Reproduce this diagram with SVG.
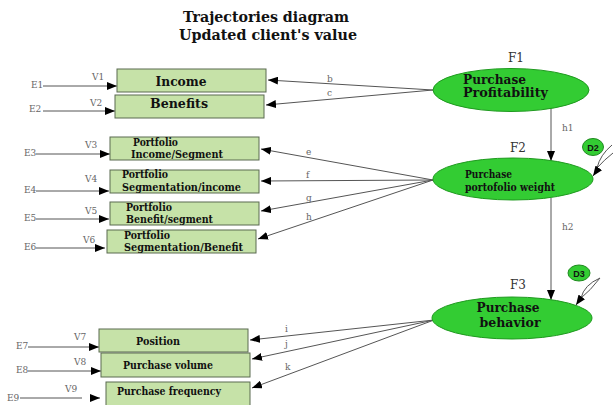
<svg xmlns="http://www.w3.org/2000/svg" width="613" height="405" viewBox="0 0 613 405">
<style>
.bg{fill:#ffffff}
.box{fill:#c6e2a8;stroke:#5a6a50;stroke-width:1}
.ell{fill:#33cc33;stroke:#1f9a1f;stroke-width:1}
.dis{fill:#33cc33;stroke:#1f8a1f;stroke-width:1}
.ln{stroke:#555;stroke-width:1;fill:none}
.t{font-family:"DejaVu Serif","Liberation Serif",serif;font-weight:bold;fill:#111}
.d{font-family:"Liberation Sans","DejaVu Sans",sans-serif;font-weight:bold;font-size:9px;fill:#111}
.s{font-family:"DejaVu Serif","Liberation Serif",serif;font-size:9px;fill:#666}
.f{font-family:"DejaVu Serif","Liberation Serif",serif;font-size:12px;fill:#333}
</style>
<defs>
<marker id="ah" markerUnits="userSpaceOnUse" markerWidth="10" markerHeight="8" refX="10" refY="4" orient="auto">
<path d="M0,0 L10,4 L0,8 z" fill="#000"/>
</marker>
</defs>
<rect class="bg" x="0" y="0" width="613" height="405"/>
<g id="title">
<text class="t" x="266" y="22" font-size="15" text-anchor="middle" textLength="166" lengthAdjust="spacingAndGlyphs">Trajectories diagram</text>
<text class="t" x="268" y="40" font-size="15" text-anchor="middle" textLength="178" lengthAdjust="spacingAndGlyphs">Updated client's value</text>
</g>
<g id="connectors">
<line class="ln" x1="43" y1="86" x2="117" y2="86" marker-end="url(#ah)"/>
<line class="ln" x1="43" y1="111" x2="115" y2="111" marker-end="url(#ah)"/>
<line class="ln" x1="36" y1="154" x2="110" y2="154" marker-end="url(#ah)"/>
<line class="ln" x1="36" y1="191" x2="109" y2="191" marker-end="url(#ah)"/>
<line class="ln" x1="36" y1="219" x2="109" y2="219" marker-end="url(#ah)"/>
<line class="ln" x1="36" y1="248" x2="105" y2="248" marker-end="url(#ah)"/>
<line class="ln" x1="28" y1="347" x2="99" y2="347" marker-end="url(#ah)"/>
<line class="ln" x1="28" y1="371" x2="101" y2="371" marker-end="url(#ah)"/>
<line class="ln" x1="20" y1="398" x2="82" y2="398"/>
<line class="ln" x1="90" y1="398" x2="100" y2="398" marker-end="url(#ah)"/>
<line class="ln" x1="433" y1="90" x2="268" y2="80" marker-end="url(#ah)"/>
<line class="ln" x1="433" y1="90" x2="266" y2="105" marker-end="url(#ah)"/>
<line class="ln" x1="433" y1="180" x2="261" y2="149" marker-end="url(#ah)"/>
<line class="ln" x1="433" y1="180" x2="261" y2="181" marker-end="url(#ah)"/>
<line class="ln" x1="433" y1="180" x2="261" y2="211" marker-end="url(#ah)"/>
<line class="ln" x1="433" y1="180" x2="258" y2="239" marker-end="url(#ah)"/>
<line class="ln" x1="434" y1="320" x2="250" y2="340" marker-end="url(#ah)"/>
<line class="ln" x1="434" y1="320" x2="252" y2="359" marker-end="url(#ah)"/>
<line class="ln" x1="434" y1="320" x2="252" y2="388" marker-end="url(#ah)"/>
<line class="ln" x1="551" y1="108" x2="551" y2="161" marker-end="url(#ah)"/>
<line class="ln" x1="551" y1="198" x2="551" y2="300" marker-end="url(#ah)"/>
<path class="ln" d="M612 145 Q600 155 597 168 Q604 160 613 153"/>
<line class="ln" x1="598" y1="169" x2="593" y2="176" marker-end="url(#ah)"/>
<path class="ln" d="M600 278 Q584 285 581 298 Q590 291 600 278"/>
<line class="ln" x1="581" y1="298" x2="576" y2="305" marker-end="url(#ah)"/>
<text class="s" x="327" y="82">b</text>
<text class="s" x="327" y="96">c</text>
<text class="s" x="306" y="155">e</text>
<text class="s" x="306" y="178">f</text>
<text class="s" x="306" y="201">g</text>
<text class="s" x="306" y="220">h</text>
<text class="s" x="285" y="332">i</text>
<text class="s" x="285" y="347">j</text>
<text class="s" x="285" y="370">k</text>
<text class="s" x="562" y="131">h1</text>
<text class="s" x="562" y="230">h2</text>
</g>
<g id="E1"><text class="s" x="31" y="88">E1</text></g>
<g id="E2"><text class="s" x="29" y="112">E2</text></g>
<g id="E3"><text class="s" x="24" y="156">E3</text></g>
<g id="E4"><text class="s" x="24" y="193">E4</text></g>
<g id="E5"><text class="s" x="24" y="221">E5</text></g>
<g id="E6"><text class="s" x="24" y="250">E6</text></g>
<g id="E7"><text class="s" x="16" y="349">E7</text></g>
<g id="E8"><text class="s" x="16" y="373">E8</text></g>
<g id="E9"><text class="s" x="7" y="401">E9</text></g>
<g id="V1">
<rect class="box" x="117" y="69" width="149" height="23"/>
<text class="s" x="92" y="80">V1</text>
<text class="t" x="181" y="85.5" font-size="13" text-anchor="middle" textLength="51" lengthAdjust="spacingAndGlyphs">Income</text>
</g>
<g id="V2">
<rect class="box" x="115" y="95" width="149" height="23"/>
<text class="s" x="90" y="106">V2</text>
<text class="t" x="179" y="107.5" font-size="13" text-anchor="middle" textLength="58" lengthAdjust="spacingAndGlyphs">Benefits</text>
</g>
<g id="V3">
<rect class="box" x="110" y="137" width="149" height="23"/>
<text class="s" x="85" y="148">V3</text>
<text class="t" x="133" y="146" font-size="10.5" textLength="45" lengthAdjust="spacingAndGlyphs">Portfolio</text>
<text class="t" x="131" y="158" font-size="10.5" textLength="92" lengthAdjust="spacingAndGlyphs">Income/Segment</text>
</g>
<g id="V4">
<rect class="box" x="110" y="170" width="149" height="23"/>
<text class="s" x="85" y="182">V4</text>
<text class="t" x="122" y="178" font-size="10.5" textLength="46" lengthAdjust="spacingAndGlyphs">Portfolio</text>
<text class="t" x="122" y="191" font-size="10.5" textLength="119" lengthAdjust="spacingAndGlyphs">Segmentation/income</text>
</g>
<g id="V5">
<rect class="box" x="110" y="202" width="149" height="23"/>
<text class="s" x="85" y="214">V5</text>
<text class="t" x="126" y="211" font-size="10.5" textLength="46" lengthAdjust="spacingAndGlyphs">Portfolio</text>
<text class="t" x="126" y="223" font-size="10.5" textLength="87" lengthAdjust="spacingAndGlyphs">Benefit/segment</text>
</g>
<g id="V6">
<rect class="box" x="107" y="230" width="149" height="23"/>
<text class="s" x="83" y="243">V6</text>
<text class="t" x="124" y="239" font-size="10.5" textLength="46" lengthAdjust="spacingAndGlyphs">Portfolio</text>
<text class="t" x="124" y="251" font-size="10.5" textLength="119" lengthAdjust="spacingAndGlyphs">Segmentation/Benefit</text>
</g>
<g id="V7">
<rect class="box" x="99" y="329" width="149" height="23"/>
<text class="s" x="74" y="340">V7</text>
<text class="t" x="158" y="345" font-size="11.5" text-anchor="middle" textLength="44" lengthAdjust="spacingAndGlyphs">Position</text>
</g>
<g id="V8">
<rect class="box" x="101" y="353" width="149" height="24"/>
<text class="s" x="74" y="365">V8</text>
<text class="t" x="168" y="369" font-size="11.5" text-anchor="middle" textLength="90" lengthAdjust="spacingAndGlyphs">Purchase volume</text>
</g>
<g id="V9">
<rect class="box" x="106" y="382" width="144" height="26"/>
<text class="s" x="65" y="392">V9</text>
<text class="t" x="169" y="395" font-size="11.5" text-anchor="middle" textLength="104" lengthAdjust="spacingAndGlyphs">Purchase frequency</text>
</g>
<g id="F1">
<ellipse class="ell" cx="511" cy="90" rx="78" ry="21.5"/>
<text class="f" x="508" y="62">F1</text>
<text class="t" x="463" y="83.5" font-size="13" textLength="63" lengthAdjust="spacingAndGlyphs">Purchase</text>
<text class="t" x="463" y="97" font-size="13" textLength="85" lengthAdjust="spacingAndGlyphs">Profitability</text>
</g>
<g id="F2">
<ellipse class="ell" cx="513" cy="179" rx="80" ry="21"/>
<text class="f" x="510" y="152">F2</text>
<text class="t" x="465" y="178" font-size="11" textLength="47" lengthAdjust="spacingAndGlyphs">Purchase</text>
<text class="t" x="465" y="191" font-size="11" textLength="90" lengthAdjust="spacingAndGlyphs">portofolio weight</text>
</g>
<g id="F3">
<ellipse class="ell" cx="512" cy="318" rx="80" ry="21"/>
<text class="f" x="510" y="289">F3</text>
<text class="t" x="508" y="312" font-size="13.5" text-anchor="middle" textLength="63" lengthAdjust="spacingAndGlyphs">Purchase</text>
<text class="t" x="510" y="327" font-size="13.5" text-anchor="middle" textLength="61" lengthAdjust="spacingAndGlyphs">behavior</text>
</g>
<g id="D2">
<ellipse class="dis" cx="593" cy="147" rx="10.5" ry="8.5"/>
<text class="d" x="593" y="150.5" text-anchor="middle">D2</text>
</g>
<g id="D3">
<ellipse class="dis" cx="579" cy="273" rx="11" ry="8"/>
<text class="d" x="579" y="276.5" text-anchor="middle">D3</text>
</g>
</svg>
